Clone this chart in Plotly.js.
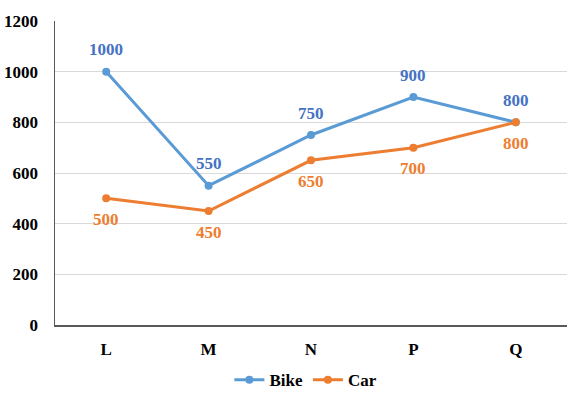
<!DOCTYPE html>
<html><head><meta charset="utf-8">
<script src="https://cdn.plot.ly/plotly-3.0.1.min.js"></script>
<style>html,body{margin:0;padding:0;background:#fff}#chart{width:573px;height:394px}</style>
</head><body><div id="chart"></div>
<script>
const categories = ["L", "M", "N", "P", "Q"];
const bike = [1000, 550, 750, 900, 800];
const car = [500, 450, 650, 700, 800];
const yTicks = [0, 200, 400, 600, 800, 1000, 1200];

const serif = "Liberation Serif";
const traces = [
  {x: categories, y: bike, name: "Bike", type: "scatter", mode: "lines+markers",
   line: {color: "#5B9BD5", width: 3}, marker: {color: "#5B9BD5", size: 8}},
  {x: categories, y: car, name: "Car", type: "scatter", mode: "lines+markers",
   line: {color: "#ED7D31", width: 3}, marker: {color: "#ED7D31", size: 8}}
];
const annotations = [];
categories.forEach((c, i) => {
  annotations.push({x: c, y: bike[i], text: String(bike[i]), showarrow: false, yshift: 22,
    font: {family: serif, size: 17, color: "#4472C4", weight: "bold"}});
  annotations.push({x: c, y: car[i], text: String(car[i]), showarrow: false, yshift: -21,
    font: {family: serif, size: 17, color: "#ED7D31", weight: "bold"}});
});
const layout = {
  width: 573, height: 394,
  margin: {l: 55, r: 6, t: 21, b: 69, autoexpand: false},
  paper_bgcolor: "#fff", plot_bgcolor: "#fff",
  font: {family: serif, size: 17, color: "#000", weight: "bold"},
  annotations: annotations,
  xaxis: {type: "category", range: [-0.5, 4.5], showgrid: false, showline: true,
          linecolor: "#595959", linewidth: 1.5, ticks: "", ticklabelstandoff: 8,
          tickfont: {family: serif, size: 17, color: "#000", weight: "bold"}, fixedrange: true},
  yaxis: {range: [0, 1200], tickvals: yTicks, ticktext: yTicks.map(String), showgrid: true,
          gridcolor: "#D9D9D9", gridwidth: 1, showline: true, linecolor: "#595959", linewidth: 1.5,
          zeroline: false, ticks: "", ticklabelstandoff: 12,
          tickfont: {family: serif, size: 17, color: "#000", weight: "bold"}, fixedrange: true},
  showlegend: true,
  legend: {orientation: "h", x: 0.49, xanchor: "center", yref: "container", y: 0.035, yanchor: "middle",
           font: {family: serif, size: 17, color: "#000", weight: "bold"}, itemwidth: 30},
};
Plotly.newPlot("chart", traces, layout, {displayModeBar: false, staticPlot: true});
</script></body></html>
